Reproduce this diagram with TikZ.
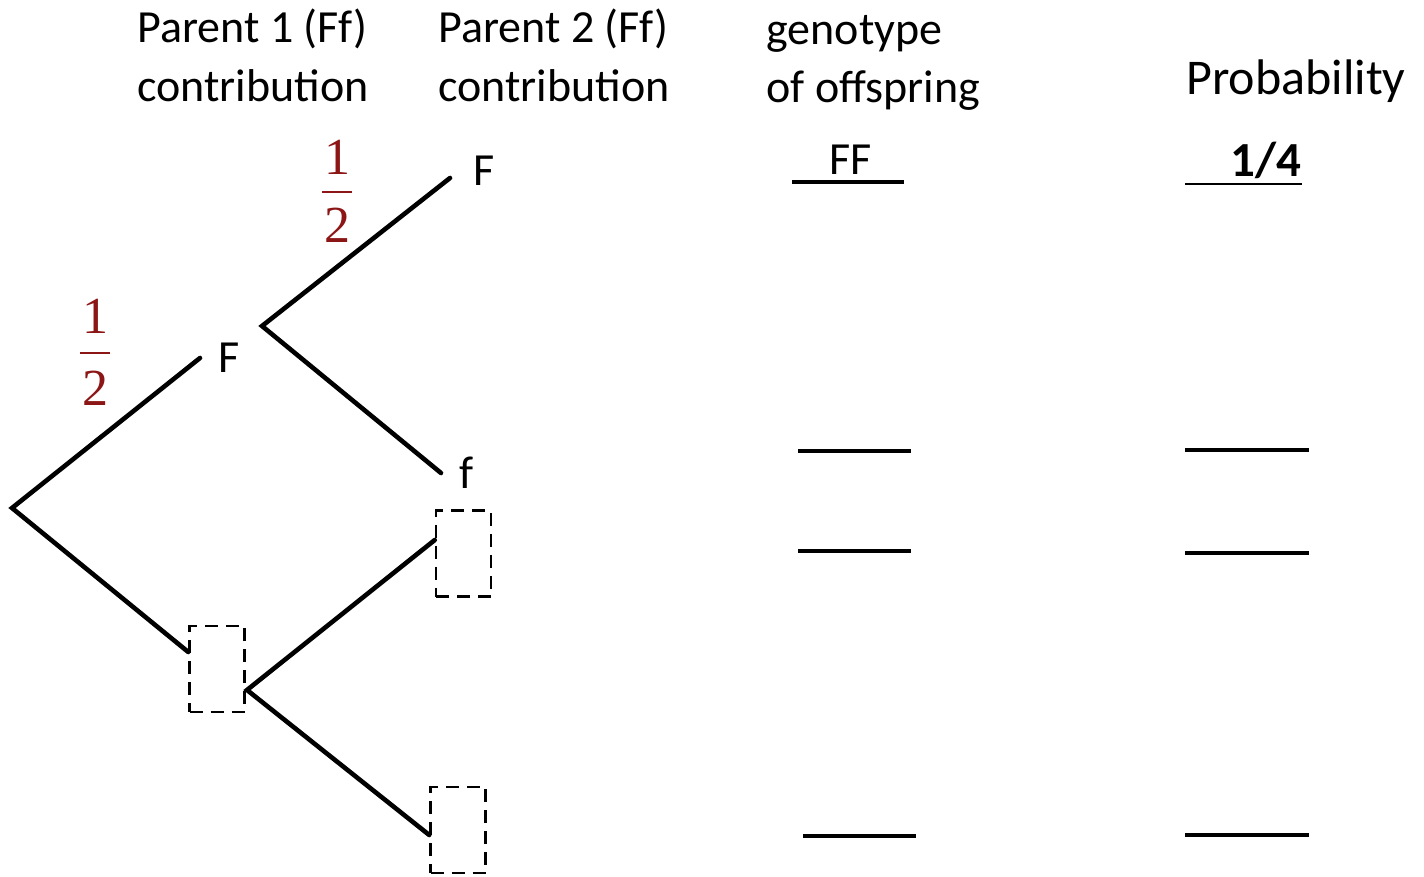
\documentclass[tikz,border=0pt]{standalone}
\usepackage{fontspec}
\setmainfont{Carlito}
\newfontfamily\fracfont{Liberation Serif}
\definecolor{fracred}{RGB}{140,22,22}
\begin{document}
\begin{tikzpicture}[x=0.5pt,y=-0.5pt,
  lbl/.style={inner sep=0pt,anchor=base west,font=\fontsize{23}{29.5}\selectfont},
  branch/.style={line width=2.3pt,line cap=round,line join=miter},
  blank/.style={inner sep=0pt,minimum width=27.5pt,minimum height=43pt,
    draw,line width=1.25pt,dash pattern=on 6.5pt off 4pt},
  fill/.style={line width=2.3pt},
  digit/.style={inner sep=0pt,anchor=base,text=fracred,font=\fracfont\fontsize{26}{26}\selectfont},
  fbar/.style={draw=fracred,line width=1.4pt}]
\useasboundingbox (0,0) rectangle (1424,877);

% column headings
\node[lbl] (h1a) at (137,43) {Parent 1 (Ff)};
\node[lbl] (h1b) at (137,102) {contribution};
\node[lbl] (h2a) at (438,43) {Parent 2 (Ff)};
\node[lbl] (h2b) at (438,102) {contribution};
\node[lbl] (h3a) at (766,45) {genotype};
\node[lbl] (h3b) at (766,103) {of offspring};
\node[lbl,font=\fontsize{25}{30}\selectfont] (h4) at (1186,95) {Probability};

% tree points
\coordinate (root) at (12,508);
\coordinate (up1)  at (200,358);
\coordinate (vA)   at (262,326);
\coordinate (upA)  at (450,178);
\coordinate (dnA)  at (441,473);
\node[blank] (b1) at (217,669) {};
\node[blank] (b2) at (463.5,553.5) {};
\node[blank] (b3) at (458,830) {};
\coordinate (vB) at (247,690);

% branches
\draw[branch] (up1) -- (root) -- (b1.west |- 0,652);
\draw[branch] (upA) -- (vA) -- (dnA);
\draw[branch] (b2.west |- 0,540) -- (vB) -- (b3.west |- 0,835);

% allele labels
\node[lbl] (fA) at (218,372) {F};
\node[lbl] (fB) at (473,186) {F};
\node[lbl] (fC) at (459,488) {f};

% branch probabilities
\node[digit] (n1) at (95,334) {1};
\draw[fbar] (80,353) -- (110,353);
\node[digit] (d1) at (95,405) {2};
\node[digit] (n2) at (337,175) {1};
\draw[fbar] (322,192) -- (352,192);
\node[digit] (d2) at (337,243) {2};

% genotype answers
\node[lbl,anchor=base] (g1) at (851,175) {FF};
\draw[fill] (792,182) -- (904,182);
\draw[fill] (798,451) -- (911,451);
\draw[fill] (798,551) -- (911,551);
\draw[fill] (803,836) -- (916,836);

% probability answers
\node[lbl,anchor=base east,font=\bfseries\fontsize{24.5}{29.5}\selectfont] (p1) at (1302,177) {1/4};
\draw[line width=1.4pt] (1185,184) -- (1302,184);
\draw[line width=1.9pt] (1185,450) -- (1309,450);
\draw[line width=1.9pt] (1185,553) -- (1309,553);
\draw[line width=1.9pt] (1185,835) -- (1309,835);
\end{tikzpicture}
\end{document}
